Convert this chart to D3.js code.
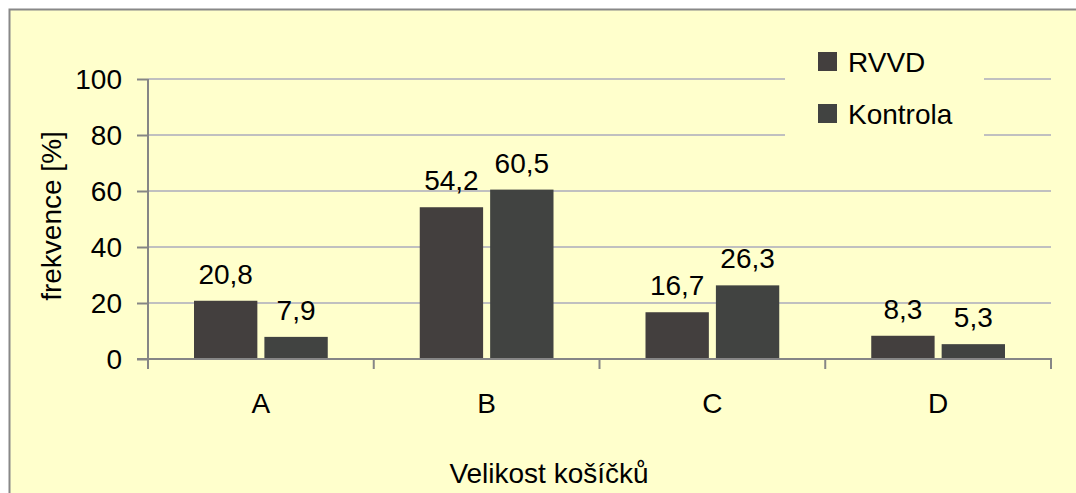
<!DOCTYPE html>
<html>
<head>
<meta charset="utf-8">
<script src="https://cdn.jsdelivr.net/npm/d3@7/dist/d3.min.js"></script>
<style>
  html, body { margin: 0; padding: 0; background: #ffffff; }
  svg { display: block; }
  text { font-family: "Liberation Sans", Arial, sans-serif; fill: #000; }
</style>
</head>
<body>
<svg id="chart" width="1076" height="493"></svg>
<script>
// Data
const categories = ["A", "B", "C", "D"];
const seriesNames = ["RVVD", "Kontrola"];
const rvvd = [20.8, 54.2, 16.7, 8.3];
const kontrola = [7.9, 60.5, 26.3, 5.3];
const yTicks = [0, 20, 40, 60, 80, 100];
const seriesColors = ["#433f3e", "#414341"];
const seriesValues = [rvvd, kontrola];

const svg = d3.select("#chart");

// Chart background and frame
svg.append("rect")
  .attr("x", 9.5).attr("y", 9.5)
  .attr("width", 1200).attr("height", 600)
  .attr("fill", "#ffffcc")
  .attr("stroke", "#888888").attr("stroke-width", 2);

const plot = { left: 148, right: 1051, top: 79, bottom: 359 };

const y = d3.scaleLinear().domain([0, 100]).range([plot.bottom, plot.top]);
const x0 = d3.scaleBand().domain(categories).range([plot.left, plot.right]);
const x1 = d3.scaleBand().domain(seriesNames)
  .range([46, x0.bandwidth() - 46]).paddingInner(0.1);

// Horizontal gridlines
svg.append("g").selectAll("line")
  .data(yTicks.filter(d => d > 0))
  .join("line")
  .attr("x1", plot.left).attr("x2", plot.right)
  .attr("y1", d => y(d)).attr("y2", d => y(d))
  .attr("stroke", "#c0c0c0").attr("stroke-width", 2);

// Bars
const groups = svg.append("g").selectAll("g")
  .data(categories)
  .join("g")
  .attr("transform", d => `translate(${x0(d)},0)`);

groups.selectAll("rect")
  .data((c, i) => seriesNames.map((s, k) => ({ s, v: seriesValues[k][i], k })))
  .join("rect")
  .attr("x", d => x1(d.s))
  .attr("width", x1.bandwidth())
  .attr("y", d => y(d.v))
  .attr("height", d => y(0) - y(d.v))
  .attr("fill", d => seriesColors[d.k]);

// Value labels
groups.selectAll("text.val")
  .data((c, i) => seriesNames.map((s, k) => ({ s, v: seriesValues[k][i], k })))
  .join("text")
  .attr("class", "val")
  .attr("x", d => x1(d.s) + x1.bandwidth() / 2)
  .attr("y", d => y(d.v) - 17)
  .attr("text-anchor", "middle")
  .style("font-size", "28px")
  .text(d => d3.format(".1f")(d.v).replace(".", ","));

// Y axis
const yAxis = d3.axisLeft(y).tickValues(yTicks).tickSize(11).tickPadding(15);
const gy = svg.append("g")
  .attr("transform", `translate(${plot.left},0)`)
  .call(yAxis);
gy.select(".domain").remove();
gy.selectAll(".tick line").attr("stroke", "#868686").attr("stroke-width", 2);
gy.selectAll(".tick text")
  .style("font-size", "28px")
  .style("font-family", "'Liberation Sans', Arial, sans-serif")
  .attr("fill", "#000")
  .attr("dy", "0.35em");
svg.append("line")
  .attr("x1", plot.left).attr("x2", plot.left)
  .attr("y1", plot.top).attr("y2", plot.bottom + 10)
  .attr("stroke", "#868686").attr("stroke-width", 2);

// X axis
svg.append("line")
  .attr("x1", plot.left - 11).attr("x2", plot.right + 1)
  .attr("y1", plot.bottom).attr("y2", plot.bottom)
  .attr("stroke", "#868686").attr("stroke-width", 2);
const edges = categories.map(c => x0(c)).concat([x0.range()[1]]);
svg.append("g").selectAll("line")
  .data(edges)
  .join("line")
  .attr("x1", d => d).attr("x2", d => d)
  .attr("y1", plot.bottom).attr("y2", plot.bottom + 10)
  .attr("stroke", "#868686").attr("stroke-width", 2);
svg.append("g").selectAll("text")
  .data(categories)
  .join("text")
  .attr("x", d => x0(d) + x0.bandwidth() / 2)
  .attr("y", 413)
  .attr("text-anchor", "middle")
  .style("font-size", "28px")
  .text(d => d);

// Axis titles
svg.append("text")
  .attr("x", 549).attr("y", 483)
  .attr("text-anchor", "middle")
  .style("font-size", "28px")
  .text("Velikost košíčků");
svg.append("text")
  .attr("transform", "translate(61,216) rotate(-90)")
  .attr("text-anchor", "middle")
  .style("font-size", "28px")
  .text("frekvence [%]");

// Legend
const legend = svg.append("g");
legend.append("rect")
  .attr("x", 785).attr("y", 40).attr("width", 199).attr("height", 110)
  .attr("fill", "#ffffcc");
const items = legend.selectAll("g")
  .data(seriesNames)
  .join("g")
  .attr("transform", (d, i) => `translate(818,${52 + i * 52})`);
items.append("rect")
  .attr("width", 19).attr("height", 19)
  .attr("fill", (d, i) => seriesColors[i]);
items.append("text")
  .attr("x", 30).attr("y", 20)
  .style("font-size", "28px")
  .text(d => d);
</script>
</body>
</html>
